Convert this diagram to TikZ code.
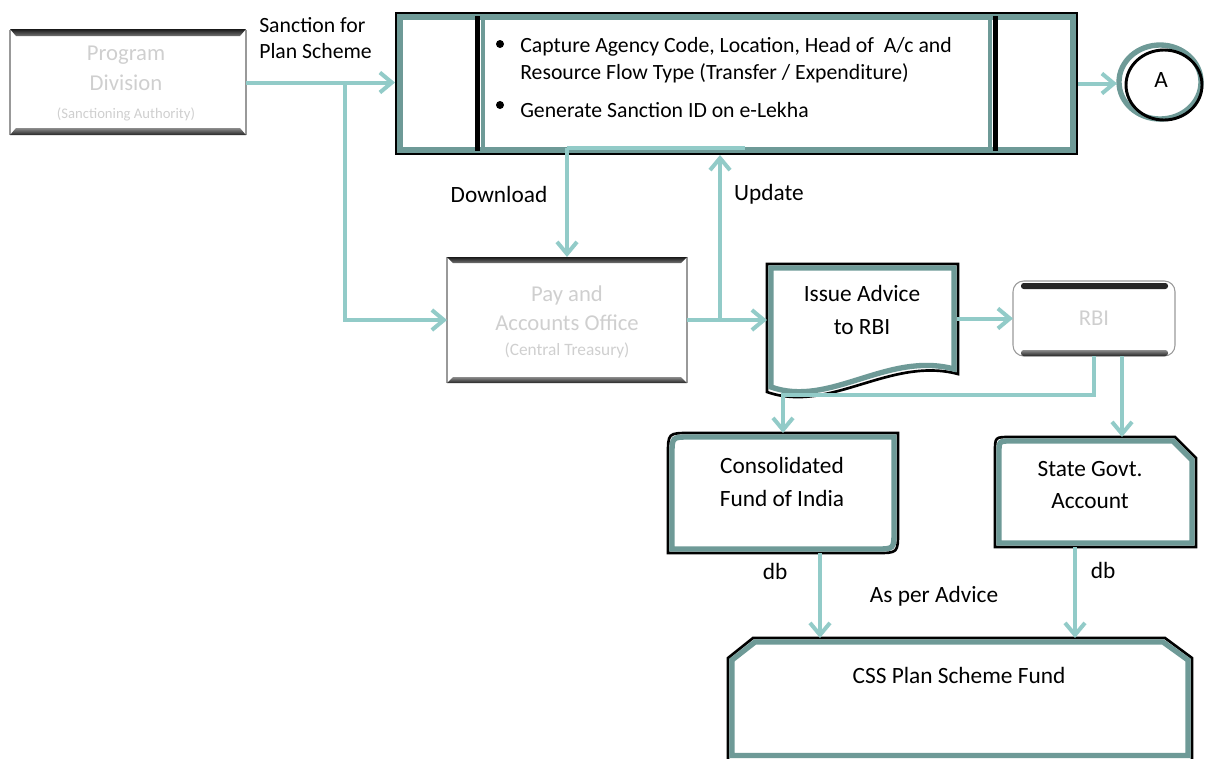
\documentclass[tikz,border=0pt]{standalone}
\usepackage{fontspec}
\setmainfont{Carlito}
\usetikzlibrary{arrows.meta,fit}
\definecolor{flowc}{HTML}{92CBC8}
\definecolor{rimc}{HTML}{6E9A97}
\definecolor{ghostc}{HTML}{CFCFCF}
\begin{document}
\begin{tikzpicture}[x=0.75pt,y=-0.75pt,
  flow/.style={draw=flowc,line width=3pt,-{Straight Barb[length=9pt,width=15pt]}},
  flowline/.style={draw=flowc,line width=3pt},
  outerline/.style={draw=black,line width=2pt,line join=miter,fill=white},
  rimline/.style={draw=rimc,line width=4pt,line join=miter},
  frame/.style={inner sep=0pt,outer sep=0pt},
  lbl/.style={font=\fontsize{17.5}{24.5}\selectfont,align=center,inner sep=0pt},
  small/.style={font=\fontsize{16.3}{19}\selectfont,inner sep=0pt},
  ghost/.style={text=ghostc,align=center,inner sep=0pt,font=\fontsize{17}{20}\selectfont},
  ghostsmall/.style={text=ghostc,align=center,inner sep=0pt,font=\fontsize{11}{13}\selectfont},
  side/.style={draw=black!40,line width=0.8pt}
]
\useasboundingbox (0,0) rectangle (1206,758);

% ---------- node frames ----------
\node[frame,fit={(10,30) (246,135)}] (pd) {};
\node[frame,fit={(395,12) (1078,155)}] (sanc) {};
\node[frame,fit={(1117,44) (1205,121)}] (circA) {};
\node[frame,fit={(447,257) (687,383)}] (pao) {};
\node[frame,fit={(767,264) (957,395)}] (adv) {};
\node[frame,fit={(1013,281) (1175,356)}] (rbi) {};
\node[frame,fit={(668,433) (898,553)}] (cfi) {};
\node[frame,fit={(995,437) (1196,547)}] (sga) {};
\node[frame,fit={(728,638) (1192,770)}] (css) {};

% ---------- Program Division ----------
\draw[side] (10,30) -- (10,135) (246,30) -- (246,135);
\shade[top color=black!90,bottom color=black!55] (10,29) -- (246,29) -- (240,36) -- (16,36) -- cycle;
\shade[top color=black!45,bottom color=black!85] (16,128) -- (240,128) -- (246,135) -- (10,135) -- cycle;
\node[ghost] at (126,55) {Program};
\node[ghost] at (126,83) {Division};
\node[ghostsmall] at (126,114) {(Sanctioning Authority)};

% ---------- sanction process box ----------
\draw[outerline] (396,13) rectangle (1077,154);
\draw[rimline] (400,17) rectangle (1073,150);
\draw[black,line width=3.75pt] (477,16) -- (477,151);
\draw[rimc,line width=3pt] (482.5,19) -- (482.5,148);
\draw[rimc,line width=3pt] (989.5,19) -- (989.5,148);
\draw[black,line width=3.75pt] (995,16) -- (995,151);
\fill (500,44) circle (3pt);
\fill (500,105) circle (3pt);
\node[small,anchor=west] at (520,47) {Capture Agency Code, Location, Head of \ A/c and};
\node[small,anchor=west] at (520,73) {Resource Flow Type (Transfer / Expenditure)};
\node[small,anchor=west] at (520,110) {Generate Sanction ID on e-Lekha};

% ---------- connector A ----------
\draw[rimc,line width=4pt] (1160,82) ellipse [x radius=41, y radius=37];
\draw[black,line width=2.2pt] (1164,85) ellipse [x radius=38, y radius=35];
\node[lbl] at (1161,80) {A};

% ---------- Pay and Accounts Office ----------
\draw[side] (447,257) -- (447,383) (687,257) -- (687,383);
\shade[top color=black!90,bottom color=black!55] (447,257) -- (687,257) -- (681,263) -- (453,263) -- cycle;
\shade[top color=black!45,bottom color=black!85] (453,377) -- (681,377) -- (687,383) -- (447,383) -- cycle;
\node[ghost] at (567,295) {Pay and};
\node[ghost] at (567,323) {Accounts Office};
\node[ghostsmall,font=\fontsize{13}{15}\selectfont] at (567,351) {(Central Treasury)};

% ---------- Issue Advice document ----------
\draw[outerline] (767,264) -- (958,264) -- (958,374) .. controls (890,356) and (830,414) .. (767,392) -- cycle;
\draw[rimline] (771,268) -- (954,268) -- (954,369) .. controls (887,351) and (830,408) .. (771,387) -- cycle;
\node[lbl] at (862,310) {Issue Advice\\to RBI};

% ---------- RBI ----------
\draw[black!40,line width=0.8pt,rounded corners=8pt] (1013,281) rectangle (1175,356);
\fill[black!85,rounded corners=2pt] (1021,283) rectangle (1168,289);
\shade[top color=black!45,bottom color=black!85,rounded corners=2pt] (1021,350) rectangle (1168,356);
\node[ghost] at (1094,318) {RBI};

% ---------- Consolidated Fund of India ----------
\draw[outerline] (668,553) -- (668,455) .. controls (668,433) .. (690,433) -- (898,433) -- (898,531) .. controls (898,553) .. (876,553) -- cycle;
\draw[rimline] (672,549) -- (672,455) .. controls (672,437) .. (690,437) -- (894,437) -- (894,531) .. controls (894,549) .. (876,549) -- cycle;
\node[lbl] at (782,482) {Consolidated\\Fund of India};

% ---------- State Govt. Account ----------
\draw[outerline] (995,547) -- (995,452) .. controls (995,437) .. (1010,437) -- (1175,437) -- (1196,458) -- (1196,547) -- cycle;
\draw[rimline] (999,543) -- (999,453) .. controls (999,441) .. (1011,441) -- (1173,441) -- (1192,460) -- (1192,543) -- cycle;
\node[lbl] at (1090,485) {State Govt.\\Account};

% ---------- CSS Plan Scheme Fund ----------
\draw[outerline] (728,762) -- (728,658) -- (753,638) -- (1165,638) -- (1192,658) -- (1192,762) -- cycle;
\draw[rimline] (732,755.5) -- (732,660) -- (755,642) -- (1163,642) -- (1188,660) -- (1188,755.5) -- cycle;
\node[lbl] at (959,675) {CSS Plan Scheme Fund};

% ---------- connectors ----------
\coordinate (j1) at (345,82.5);
\coordinate (dl) at (567,148);
\coordinate (up) at (720,320);
\coordinate (c1) at (783,395);
\coordinate (r2) at (1122,356);
\coordinate (c2) at (820,553);
\coordinate (s2) at (1075,547);

\draw[flow] (pd.east) -- (pd.east -| sanc.west);
\draw[flow] (j1) |- (pao.west);
\draw[flow] (sanc.east) -- (sanc.east -| circA.west);
\draw[flowline] (dl) -- (745,148);
\draw[flow] (dl) -- (pao.north);
\draw[flow] (pao.east) -- (pao.east -| adv.west);
\draw[flow] (up) -- (up |- sanc.south);
\draw[flow] (rbi.west -| adv.east) -- (rbi.west);
\draw[flow] (rbi.south) |- (c1) -- (c1 |- cfi.north);
\draw[flow] (r2) -- (r2 |- sga.north);
\draw[flow] (c2) -- (c2 |- css.north);
\draw[flow] (s2) -- (s2 |- css.north);

% ---------- connector labels ----------
\node[small,anchor=west,align=left] at (259,38) {Sanction for\\Plan Scheme};
\node[lbl] at (499,194) {Download};
\node[lbl] at (769,194) {Update};
\node[lbl] at (775,571) {db};
\node[lbl] at (1103,570) {db};
\node[lbl] at (934,596) {As per Advice};
\end{tikzpicture}
\end{document}
